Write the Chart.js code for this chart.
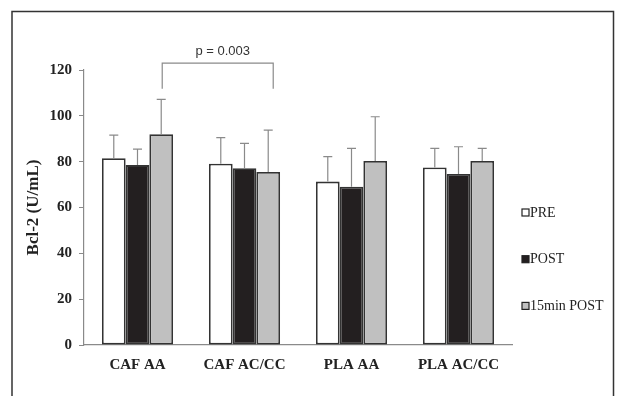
<!DOCTYPE html>
<html>
<head>
<meta charset="utf-8">
<script src="https://cdn.jsdelivr.net/npm/chart.js@4/dist/chart.umd.min.js"></script>
<style>
  html, body { margin: 0; padding: 0; background: #fff; }
  #wrap { width: 617px; height: 396px; }
</style>
</head>
<body>
<div id="wrap"><canvas id="bclChart" width="617" height="396"></canvas></div>
<script>
const groups = ['CAF AA', 'CAF AC/CC', 'PLA AA', 'PLA AC/CC'];
const preMean = [81.5, 79.1, 71.3, 77.5];
const postMean = [78.5, 77.1, 69.1, 74.6];
const post15Mean = [92.0, 75.5, 80.3, 80.3];
const preSD = [10.1, 11.4, 10.9, 8.3];
const postSD = [7.0, 10.9, 16.7, 11.9];
const post15SD = [15.2, 18.3, 19.3, 5.5];
const yTicks = [0, 20, 40, 60, 80, 100, 120];
const pLabel = 'p = 0.003';

const serif = '"Liberation Serif", "Times New Roman", serif';

// outer frame of the figure
const framePlugin = {
    id: 'frame',
    beforeDraw(chart) {
        const c = chart.ctx;
        c.save();
        c.strokeStyle = '#333';
        c.lineWidth = 1.5;
        c.beginPath();
        c.moveTo(12, 396);
        c.lineTo(12, 11.5);
        c.lineTo(613.5, 11.5);
        c.lineTo(613.5, 396);
        c.stroke();
        c.restore();
    }
};

// upper error bars from the SD arrays
const errorPlugin = {
    id: 'errors',
    afterDatasetsDraw(chart) {
        const c = chart.ctx;
        const y = chart.scales.y;
        c.save();
        c.strokeStyle = '#8a8a8a';
        c.lineWidth = 1.2;
        chart.data.datasets.forEach((ds, i) => {
            const meta = chart.getDatasetMeta(i);
            meta.data.forEach((bar, j) => {
                const top = y.getPixelForValue(ds.data[j] + ds.sd[j]);
                c.beginPath();
                c.moveTo(bar.x, bar.y);
                c.lineTo(bar.x, top);
                c.moveTo(bar.x - 4.5, top);
                c.lineTo(bar.x + 4.5, top);
                c.stroke();
            });
        });
        // significance bracket between 15min POST bars of CAF AA and CAF AC/CC
        const m = chart.getDatasetMeta(2);
        const x1 = m.data[0].x + 1, x2 = m.data[1].x + 5;
        const yTop = y.getPixelForValue(123);
        const yLeg = y.getPixelForValue(111.8);
        c.beginPath();
        c.moveTo(x1, yLeg);
        c.lineTo(x1, yTop);
        c.lineTo(x2, yTop);
        c.lineTo(x2, yLeg);
        c.stroke();
        c.fillStyle = '#333';
        c.font = '13px "Liberation Sans", Arial, sans-serif';
        c.textAlign = 'center';
        c.textBaseline = 'middle';
        c.fillText(pLabel, (x1 + x2) / 2 + 5, yTop - 12);
        c.restore();
    }
};

// legend at right, stacked with wide gaps
const legendPlugin = {
    id: 'sideLegend',
    afterDraw(chart) {
        const c = chart.ctx;
        c.save();
        c.font = '14px ' + serif;
        c.textBaseline = 'middle';
        c.textAlign = 'left';
        chart.data.datasets.forEach((ds, i) => {
            const cy = 213 + i * 46.7;
            c.fillStyle = ds.backgroundColor;
            c.fillRect(522, cy - 4, 7, 7);
            c.strokeStyle = '#222';
            c.lineWidth = 1.2;
            c.strokeRect(522, cy - 4, 7, 7);
            c.fillStyle = '#222';
            c.fillText(ds.label, 530, cy);
        });
        c.restore();
    }
};

const makeSet = (label, data, sd, fill) => ({
    label: label,
    data: data,
    sd: sd,
    backgroundColor: fill,
    borderColor: '#333',
    borderWidth: 1.8,
    borderSkipped: false,
    barPercentage: 1.0,
    categoryPercentage: 0.665
});

new Chart(document.getElementById('bclChart'), {
    type: 'bar',
    data: {
        labels: groups,
        datasets: [
            makeSet('PRE', preMean, preSD, '#ffffff'),
            makeSet('POST', postMean, postSD, '#231f20'),
            makeSet('15min POST', post15Mean, post15SD, '#c0c0c0')
        ]
    },
    options: {
        responsive: false,
        animation: false,
        devicePixelRatio: 1,
        layout: { padding: { left: 0, right: 105, top: 70, bottom: 0 } },
        plugins: {
            legend: { display: false },
            tooltip: { enabled: false }
        },
        scales: {
            x: {
                grid: { display: false, drawTicks: false },
                border: { color: '#8a8a8a', width: 1.2 },
                ticks: {
                    padding: 11,
                    color: '#222',
                    font: { family: serif, size: 15, weight: 'bold' }
                },
                afterFit(scale) { scale.height = 51; }
            },
            y: {
                min: 0,
                max: 120,
                afterBuildTicks(scale) { scale.ticks = yTicks.map(v => ({ value: v })); },
                grid: { drawOnChartArea: false, tickLength: 5, color: '#8a8a8a', tickColor: '#8a8a8a' },
                border: { color: '#8a8a8a', width: 1.2 },
                ticks: {
                    padding: 7,
                    color: '#222',
                    font: { family: serif, size: 15, weight: 'bold' }
                },
                title: {
                    display: true,
                    text: 'Bcl-2 (U/mL)',
                    color: '#222',
                    font: { family: serif, size: 17, weight: 'bold' },
                    padding: { top: 23, bottom: 0 }
                },
                afterFit(scale) { scale.width = 84; }
            }
        }
    },
    plugins: [framePlugin, errorPlugin, legendPlugin]
});
</script>
</body>
</html>
